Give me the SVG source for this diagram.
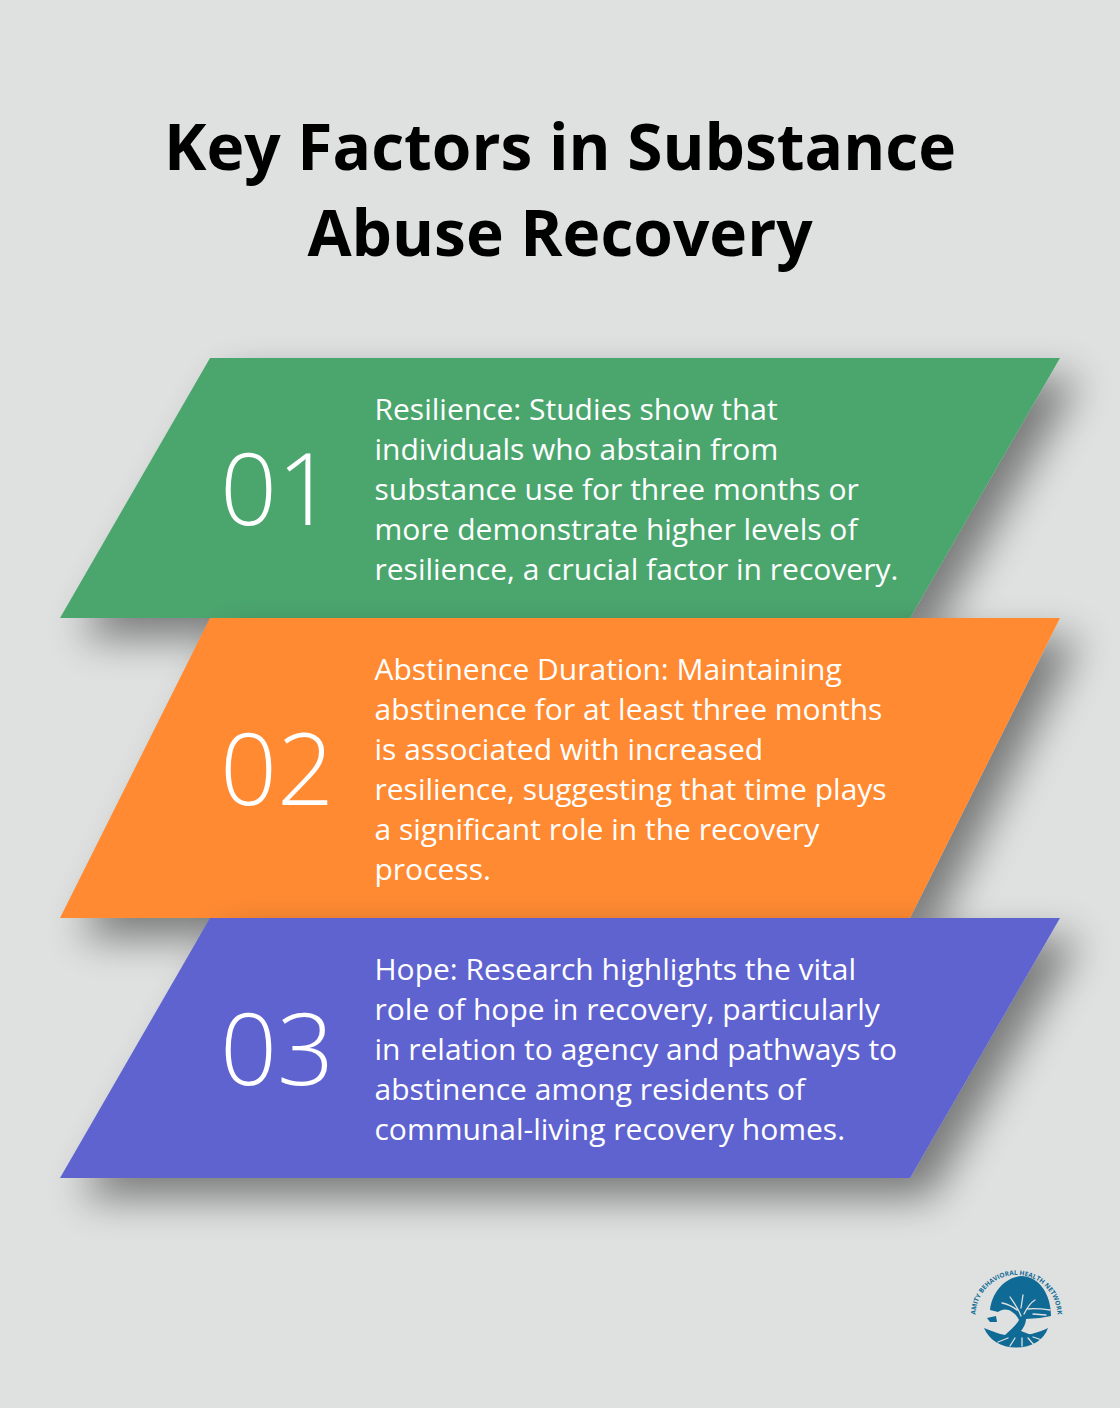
<svg xmlns="http://www.w3.org/2000/svg" width="1120" height="1408" viewBox="0 0 1120 1408">
<defs>
<filter id="sh" x="-20%" y="-35%" width="145%" height="190%"><feGaussianBlur in="SourceAlpha" stdDeviation="20"/><feOffset dx="20" dy="20"/><feComponentTransfer><feFuncA type="linear" slope="0.46"/></feComponentTransfer><feMerge><feMergeNode/><feMergeNode in="SourceGraphic"/></feMerge></filter>
<path id="arc" d="M975.500 1316 A41 41 0 1 1 1057.500 1316"/>
</defs>
<style>
text{font-family:"Open Sans","Noto Sans","Liberation Sans",sans-serif}
.t{font-size:64px;font-weight:700;fill:#000;text-anchor:middle}
.n{font-size:100px;font-weight:300;fill:#fff}
.b{font-size:30px;fill:#fff}
.s{filter:url(#sh)}
.l{fill:#0f6a96}
.w{fill:none;stroke:#dfe1e0;stroke-linecap:round}
</style>
<rect width="1120" height="1408" fill="#dfe1e0"/>
<g id="title"><text class="t" x="560" y="169.500">Key Factors in Substance</text><text class="t" x="560" y="255.500">Abuse Recovery</text></g>
<g id="node-1"><polygon class="s" points="210,358 1060,358 910,618 60,618" fill="#4ca66e"/>
<text class="n" x="220" y="525">01</text>
<text class="b" x="374.500" y="420">Resilience: Studies show that</text><text class="b" x="374.500" y="460">individuals who abstain from</text><text class="b" x="374.500" y="500">substance use for three months or</text><text class="b" x="374.500" y="540">more demonstrate higher levels of</text><text class="b" x="374.500" y="580">resilience, a crucial factor in recovery.</text></g>
<g id="node-2"><polygon class="s" points="210,618 1060,618 910,918 60,918" fill="#ff8a33"/>
<text class="n" x="220" y="805">02</text>
<text class="b" x="374.500" y="680">Abstinence Duration: Maintaining</text><text class="b" x="374.500" y="720">abstinence for at least three months</text><text class="b" x="374.500" y="760">is associated with increased</text><text class="b" x="374.500" y="800">resilience, suggesting that time plays</text><text class="b" x="374.500" y="840">a significant role in the recovery</text><text class="b" x="374.500" y="880">process.</text></g>
<g id="node-3"><polygon class="s" points="210,918 1060,918 910,1178 60,1178" fill="#5f63d0"/>
<text class="n" x="220" y="1085">03</text>
<text class="b" x="374.500" y="980">Hope: Research highlights the vital</text><text class="b" x="374.500" y="1020">role of hope in recovery, particularly</text><text class="b" x="374.500" y="1060">in relation to agency and pathways to</text><text class="b" x="374.500" y="1100">abstinence among residents of</text><text class="b" x="374.500" y="1140">communal-living recovery homes.</text></g>
<g id="logo">
<path class="l" d="M990 1310 C992 1292 1005 1277 1022 1276 C1040 1277 1051 1295 1051 1316 L1040 1318 L1026 1319 C1026 1323 1024 1327 1021 1331 L1034 1336 L1004 1336 C1010 1330 1016 1326 1019 1320 C1015 1311 1005 1306 998 1312 Z"/>
<path class="l" d="M987 1318 L996 1316 L997 1322 L990 1322Z"/>
<path class="l" d="M984 1328 C996 1333 1005 1336 1015 1336 C1026 1336 1038 1333 1048 1328 C1044 1340 1032 1347.500 1016 1347.500 C1001 1347.500 989 1340 984 1328Z"/>
<g class="w" stroke-width="1.300"><path d="M1021 1316 C1018 1308 1014 1303 1010 1297M1017 1310 C1012 1306 1007 1304 1002 1303M1024 1314 C1027 1308 1030 1303 1035 1300M1028 1309 C1034 1308 1043 1309 1050 1310M1021 1308 L1023 1295M1033 1314 L1046 1315"/>
<path d="M1008 1338 L998 1342M1015 1338 L1010 1346M1022 1338 L1022 1346M1028 1338 L1034 1345M1033 1337 L1042 1340"/></g>
<text font-size="6.500" font-weight="700" fill="#0f6a96"><textPath href="#arc" startOffset="50%" text-anchor="middle" textLength="126">AMITY BEHAVIORAL HEALTH NETWORK</textPath></text>
</g>
<g id="connectors"/>
</svg>
